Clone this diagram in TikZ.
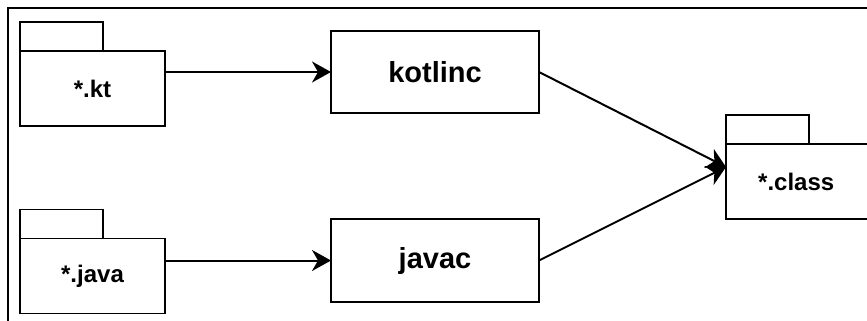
\documentclass[tikz,border=0pt]{standalone}
\usepackage{fontspec}
\setmainfont{Liberation Sans}
\usetikzlibrary{arrows.meta}
\begin{document}
\begin{tikzpicture}[x=1pt,y=-1pt,
  pkgarea/.style={draw=none, inner sep=0pt, outer sep=0pt,
    minimum width=145pt, minimum height=104pt},
  pkgline/.style={line width=1.8pt},
  pkgtext/.style={inner sep=0pt, font=\bfseries\fontsize{24}{28}\selectfont},
  toolbox/.style={draw, line width=1.8pt, inner sep=0pt, outer sep=0pt,
    minimum width=208pt, minimum height=82pt,
    font=\bfseries\fontsize{29}{34}\selectfont},
  flow/.style={line width=2pt, -{Stealth[length=19pt,width=21pt,inset=6pt]}}]

\useasboundingbox (0,0) rectangle (867,321);
\clip (0,0) rectangle (867,321);

% outer frame
\draw[line width=2.2pt] (8,8) rectangle (900,340);

% source packages
\node[pkgarea] (kt) at (92.5,74) {};
\node[pkgarea] (java) at (92.5,261.5) {};
% output package
\node[pkgarea, minimum width=160pt] (class) at (806,167) {};

\foreach \p in {kt,java,class}{
  \draw[pkgline] (\p.north west) rectangle ([xshift=83pt,yshift=-29pt]\p.north west);
  \draw[pkgline] ([yshift=-29pt]\p.north west) rectangle (\p.south east);
}
\node[pkgtext] (ktlabel) at ([yshift=-14.5pt]kt.center) {*.kt};
\node[pkgtext] (javalabel) at ([yshift=-14.5pt]java.center) {*.java};
\node[pkgtext, anchor=west] (classlabel) at ([xshift=32pt,yshift=-14.5pt]class.west) {*.class};

% compilers
\node[toolbox] (kotlinc) at (435,72) {kotlinc};
\node[toolbox, minimum height=83pt] (javac) at (435,260.5) {javac};

% connectors
\draw[flow] (kt.east |- kotlinc.west) -- (kotlinc.west);
\draw[flow] (java.east |- javac.west) -- (javac.west);
\draw[flow] (kotlinc.east) -- (class.west);
\draw[flow] (javac.east) -- (class.west);
\end{tikzpicture}
\end{document}
